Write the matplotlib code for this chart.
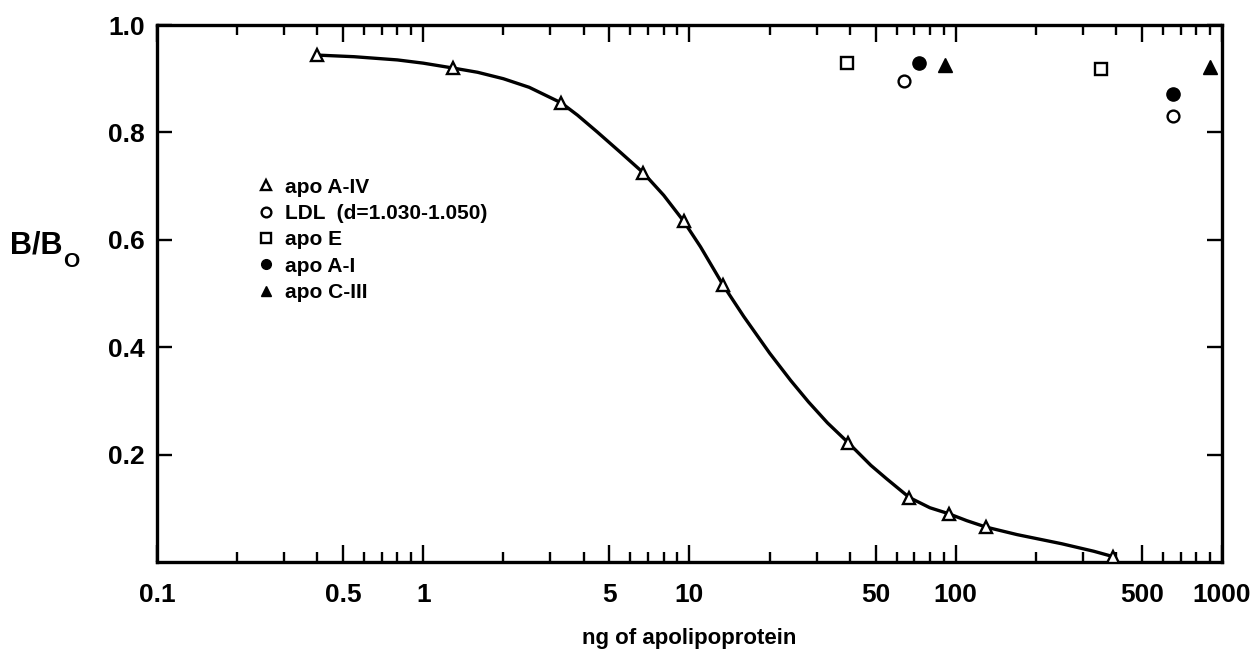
import numpy as np
import matplotlib.pyplot as plt
from matplotlib.ticker import FixedLocator, NullFormatter

plt.rcParams['font.family'] = ['Liberation Sans', 'DejaVu Sans']
plt.rcParams['font.weight'] = 'bold'

# apo A-IV standard curve points (open triangles)
apoA4_x = [0.40, 1.29, 3.3, 6.7, 9.5, 13.4, 39.5, 67, 94, 130, 390]
apoA4_y = [0.944, 0.92, 0.855, 0.725, 0.635, 0.515, 0.222, 0.12, 0.09, 0.065, 0.01]

# fitted curve
curve_x = [0.40, 0.55, 0.8, 1.0, 1.29, 1.6, 2.0, 2.5, 3.3, 3.8, 4.5, 5.5, 6.7, 8.0,
           9.5, 11, 13.4, 16, 20, 24, 28, 33, 39.5, 48, 55, 67, 80, 94, 110, 130,
           170, 250, 330, 390]
curve_y = [0.944, 0.941, 0.935, 0.929, 0.92, 0.912, 0.90, 0.884, 0.855, 0.832, 0.801,
           0.763, 0.725, 0.683, 0.635, 0.587, 0.515, 0.457, 0.389, 0.338, 0.298, 0.259,
           0.222, 0.18, 0.155, 0.12, 0.101, 0.09, 0.077, 0.065, 0.051, 0.034, 0.02, 0.01]

ldl_x = [64, 655]
ldl_y = [0.895, 0.831]
apoE_x = [39, 350]
apoE_y = [0.929, 0.919]
apoA1_x = [73, 653]
apoA1_y = [0.929, 0.871]
apoC3_x = [91, 900]
apoC3_y = [0.925, 0.921]

xticks = [0.1, 0.5, 1, 5, 10, 50, 100, 500, 1000]
xticklabels = ['0.1', '0.5', '1', '5', '10', '50', '100', '500', '1000']
yticks = [0.2, 0.4, 0.6, 0.8, 1.0]
yticklabels = ['0.2', '0.4', '0.6', '0.8', '1.0']

fig = plt.figure(figsize=(12.52, 6.5), dpi=100)
ax = fig.add_axes([0.1254, 0.1354, 0.8506, 0.8261])

ax.plot(curve_x, curve_y, color='black', lw=2.4, zorder=2)
ms = 8.5
ax.plot(apoA4_x, apoA4_y, ls='none', marker='^', ms=ms, mfc='white', mec='black', mew=1.7,
        label='apo A-IV', zorder=3)
ax.plot(ldl_x, ldl_y, ls='none', marker='o', ms=ms, mfc='white', mec='black', mew=1.7,
        label='LDL  (d=1.030-1.050)', zorder=3)
ax.plot(apoE_x, apoE_y, ls='none', marker='s', ms=ms - 0.5, mfc='white', mec='black', mew=1.7,
        label='apo E', zorder=3)
ax.plot(apoA1_x, apoA1_y, ls='none', marker='o', ms=ms + 1, mfc='black', mec='black',
        label='apo A-I', zorder=3)
ax.plot(apoC3_x, apoC3_y, ls='none', marker='^', ms=ms + 1, mfc='black', mec='black',
        label='apo C-III', zorder=3)

ax.set_xscale('log')
ax.set_xlim(0.1, 1000)
ax.set_ylim(0, 1.0)

minors = [m * 10.0 ** e for e in range(-1, 3) for m in range(2, 10) if m != 5]
ax.xaxis.set_major_locator(FixedLocator(xticks))
ax.xaxis.set_minor_locator(FixedLocator(minors))
ax.xaxis.set_minor_formatter(NullFormatter())
ax.set_xticklabels(xticklabels)
ax.set_yticks(yticks)
ax.set_yticklabels(yticklabels)

ax.tick_params(which='both', direction='in', top=True, right=True, width=1.7,
               labelsize=19, colors='black')
ax.tick_params(axis='x', which='major', length=12, pad=15)
ax.tick_params(which='minor', length=7)
ax.tick_params(axis='y', which='major', length=11, pad=9)
for lab in ax.get_xticklabels() + ax.get_yticklabels():
    lab.set_fontweight('bold')

for s in ax.spines.values():
    s.set_linewidth(2.4)

ax.set_xlabel('ng of apolipoprotein', fontsize=16, fontweight='bold', labelpad=15)

fig.text(0.008, 0.623, 'B/B', fontsize=22, fontweight='bold', va='center', ha='left')
fig.text(0.0505, 0.598, 'O', fontsize=15, fontweight='bold', va='center', ha='left')

leg = ax.legend(loc='upper left', bbox_to_anchor=(0.085, 0.735), frameon=False,
                handlelength=0.8, handletextpad=0.5, labelspacing=0.35,
                borderpad=0, prop={'weight': 'bold', 'size': 15})
for h in leg.legend_handles:
    h.set_markersize(7)

fig.savefig('out.png', dpi=100)
